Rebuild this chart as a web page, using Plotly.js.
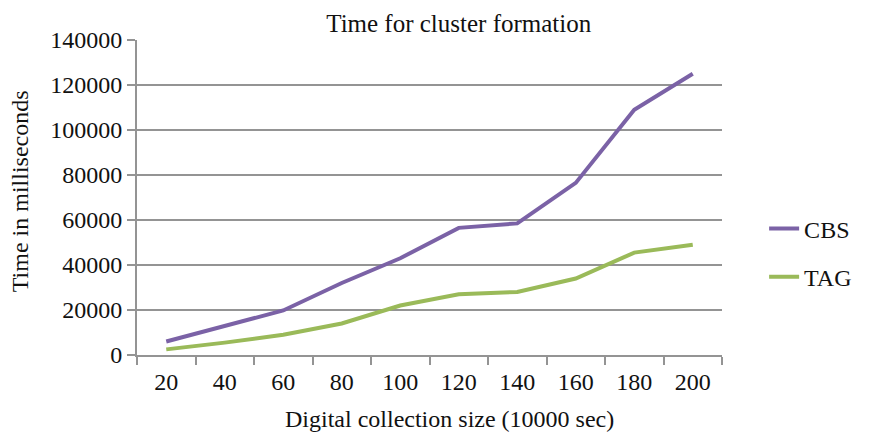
<!DOCTYPE html>
<html>
<head>
<meta charset="utf-8">
<script src="https://cdn.plot.ly/plotly-3.0.1.min.js"></script>
<style>
  html, body { margin: 0; padding: 0; background: #ffffff; }
  #chart { width: 873px; height: 434px; }
</style>
</head>
<body>
<div id="chart"></div>
<script>
// Digital collection size (10000 sec)
const sizes = ['20', '40', '60', '80', '100', '120', '140', '160', '180', '200'];

// Time for cluster formation, in milliseconds
const cbsTimes = [6000, 12800, 19800, 32000, 43000, 56500, 58500, 76500, 109000, 125000];
const tagTimes = [2500, 5500, 9000, 14000, 22000, 27000, 28000, 34000, 45500, 49000];

const yTickValues = [0, 20000, 40000, 60000, 80000, 100000, 120000, 140000];

const serif = "'Liberation Serif', 'Times New Roman', serif";
const gridGray = '#949494';
const textColor = '#111111';

const traces = [
  {
    x: sizes, y: cbsTimes, name: 'CBS', type: 'scatter', mode: 'lines',
    legendgroup: 'cbs',
    line: { color: '#7b62a6', width: 4 }
  },
  {
    x: sizes, y: tagTimes, name: 'TAG', type: 'scatter', mode: 'lines',
    legendgroup: 'tag',
    line: { color: '#9aba59', width: 4 }
  }
];

const layout = {
  width: 873,
  height: 434,
  margin: { l: 137, r: 151, t: 40, b: 79 },
  paper_bgcolor: '#ffffff',
  plot_bgcolor: '#ffffff',
  font: { family: serif, size: 24, color: textColor },
  title: {
    text: 'Time for cluster formation',
    font: { family: serif, size: 25, color: textColor },
    xref: 'paper', x: 0.55, xanchor: 'center',
    yref: 'container', y: 0.947, yanchor: 'middle'
  },
  xaxis: {
    type: 'category',
    categoryorder: 'array',
    categoryarray: sizes,
    range: [-0.5, sizes.length - 0.5],
    tickson: 'boundaries',
    ticks: 'outside',
    ticklen: 8,
    tickwidth: 2,
    tickcolor: gridGray,
    showline: true,
    linecolor: gridGray,
    linewidth: 2,
    showgrid: false,
    zeroline: false,
    ticklabelstandoff: 4,
    tickfont: { family: serif, size: 24, color: textColor },
    fixedrange: true
  },
  yaxis: {
    range: [0, 140000],
    tickvals: yTickValues,
    ticktext: yTickValues.map(String),
    ticks: 'outside',
    ticklen: 8,
    tickwidth: 2,
    tickcolor: gridGray,
    showline: true,
    linecolor: gridGray,
    linewidth: 2,
    showgrid: true,
    gridcolor: gridGray,
    gridwidth: 2,
    zeroline: false,
    tickfont: { family: serif, size: 24, color: textColor },
    fixedrange: true
  },
  legend: {
    x: 1.072, xanchor: 'left',
    y: 0.324, yanchor: 'middle',
    bgcolor: 'rgba(0,0,0,0)',
    traceorder: 'grouped',
    tracegroupgap: 14,
    font: { family: serif, size: 24, color: textColor }
  },
  annotations: [
    {
      text: 'Digital collection size (10000 sec)',
      xref: 'paper', yref: 'paper',
      x: 0.535, y: -0.203,
      xanchor: 'center', yanchor: 'middle',
      showarrow: false,
      font: { family: serif, size: 24, color: textColor }
    },
    {
      text: 'Time in milliseconds',
      xref: 'paper', yref: 'paper',
      x: -0.2, y: 0.52,
      xanchor: 'center', yanchor: 'middle',
      textangle: -90,
      showarrow: false,
      font: { family: serif, size: 24, color: textColor }
    }
  ],
  showlegend: true
};

Plotly.newPlot('chart', traces, layout, { displayModeBar: false, staticPlot: true });
</script>
</body>
</html>
